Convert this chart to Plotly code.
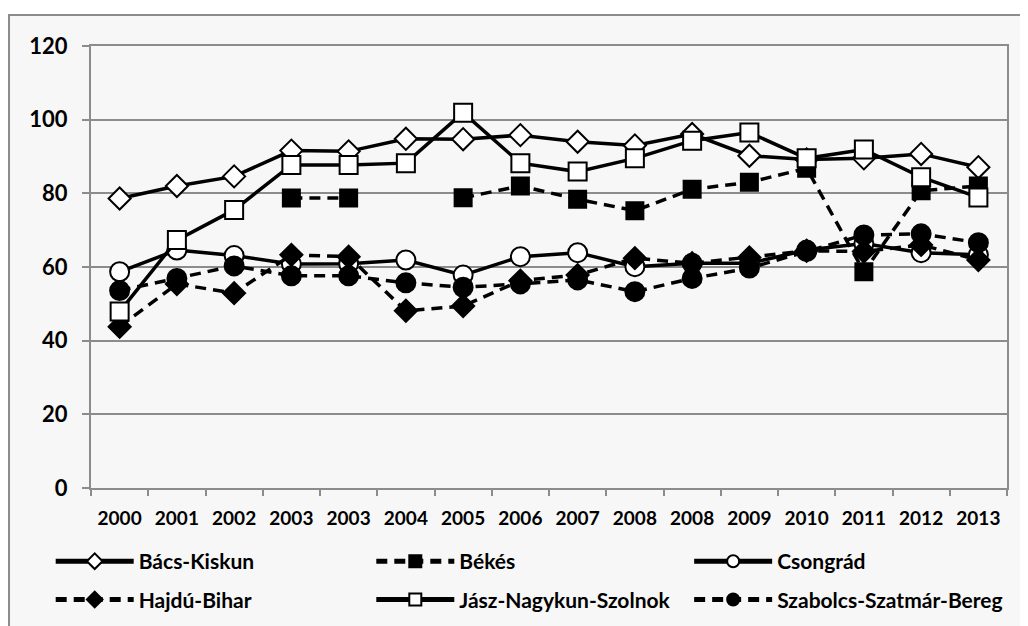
import plotly.graph_objects as go

# x categories (the source repeats 2003 and 2008)
years = ["2000", "2001", "2002", "2003", "2003", "2004", "2005", "2006",
         "2007", "2008", "2008", "2009", "2010", "2011", "2012", "2013"]

bacs_kiskun = [78.6, 82.0, 84.6, 91.6, 91.4, 94.8, 94.7, 95.8,
               94.0, 93.0, 96.1, 90.2, 89.2, 89.5, 90.7, 87.1]
bekes = [None, None, None, 78.7, 78.7, None, 78.8, 82.0,
         78.4, 75.3, 81.1, 83.0, 86.8, 58.7, 80.7, 82.0]
csongrad = [58.7, 64.6, 63.1, 60.8, 60.9, 61.9, 57.8, 62.8,
            63.9, 60.1, 61.0, 61.0, 64.6, 66.4, 63.9, 63.3]
hajdu_bihar = [43.8, 55.4, 52.9, 63.3, 62.8, 48.1, 49.4, 56.3,
               57.8, 62.4, 61.0, 62.6, 64.4, 64.2, 66.0, 61.9]
jasz = [47.9, 67.3, 75.5, 87.7, 87.7, 88.2, 101.9, 88.2,
        85.9, 89.5, 94.3, 96.5, 89.5, 91.9, 84.4, 78.9]
szabolcs = [53.6, 56.9, 60.3, 57.6, 57.6, 55.7, 54.5, 55.4,
            56.5, 53.3, 56.9, 59.7, 64.2, 68.7, 69.0, 66.6]

DASH = "11px,7px"
series = [
    ("Bács-Kiskun", bacs_kiskun, "solid", "diamond", "white", 17, "legend", 1),
    ("Békés", bekes, DASH, "square", "black", 17, "legend2", 2),
    ("Csongrád", csongrad, "solid", "circle", "white", 19, "legend3", 3),
    ("Hajdú-Bihar", hajdu_bihar, DASH, "diamond", "black", 17, "legend", 4),
    ("Jász-Nagykun-Szolnok", jasz, "solid", "square", "white", 18, "legend2", 5),
    ("Szabolcs-Szatmár-Bereg", szabolcs, DASH, "circle", "black", 19, "legend3", 6),
]

FONT = "Lato"
x = list(range(len(years)))

fig = go.Figure()
for name, vals, dash, sym, fill, size, leg, grp in series:
    fig.add_trace(go.Scatter(
        x=x, y=vals, name=name, mode="lines+markers",
        connectgaps=False,
        line=dict(color="black", width=3.5, dash=dash),
        marker=dict(symbol=sym, size=size, color=fill,
                    line=dict(color="black", width=2)),
        legend=leg, legendgroup=str(grp),
    ))

# invisible helper trace for the boundary tick marks on a second x axis
fig.add_trace(go.Scatter(x=[-0.5, 15.5], y=[0, 0], xaxis="x2", mode="lines",
                         line=dict(width=0), showlegend=False, hoverinfo="skip"))

legend_style = dict(
    orientation="v", xanchor="left", yanchor="top",
    font=dict(family=FONT, size=21, color="black", weight="bold"),
    bgcolor="rgba(0,0,0,0)", itemsizing="constant", itemwidth=78,
    tracegroupgap=8,
)

fig.update_layout(
    width=1028, height=626,
    margin=dict(l=83, r=29, t=38, b=146),
    paper_bgcolor="white", plot_bgcolor="white",
    font=dict(family=FONT, color="black"),
    xaxis=dict(
        range=[-0.5, 15.5], tickvals=x, ticktext=years, ticks="",
        tickfont=dict(family=FONT, size=19, color="black", weight="bold"),
        ticklabelstandoff=12,
        showgrid=False, zeroline=False,
        showline=True, linecolor="#8c8c8c", linewidth=2, mirror=True,
    ),
    xaxis2=dict(
        range=[-0.5, 15.5], overlaying="x", anchor="y", side="bottom",
        tickvals=[i - 0.5 for i in range(len(years) + 1)],
        showticklabels=False, ticks="outside", ticklen=7, tickwidth=2,
        tickcolor="#8c8c8c", showgrid=False, zeroline=False, showline=False,
    ),
    yaxis=dict(
        range=[0, 120], dtick=20, ticks="outside", ticklen=7, tickwidth=2,
        tickcolor="#8c8c8c", ticklabelstandoff=10,
        tickfont=dict(family=FONT, size=22, color="black", weight="bold"),
        showgrid=True, gridcolor="#8c8c8c", gridwidth=2, zeroline=False,
        showline=True, linecolor="#8c8c8c", linewidth=2, mirror=True,
    ),
    legend=dict(x=-0.044, y=-0.12, **legend_style),
    legend2=dict(x=0.306, y=-0.12, **legend_style),
    legend3=dict(x=0.653, y=-0.12, **legend_style),
    shapes=[dict(
        type="rect", xref="paper", yref="paper", layer="below",
        x0=-0.0895, x1=1.05, y0=-0.36, y1=1.07,
        fillcolor="#f7f7f7", line=dict(color="#8c8c8c", width=2),
    )],
    showlegend=True,
)

fig.write_html("out.html")
